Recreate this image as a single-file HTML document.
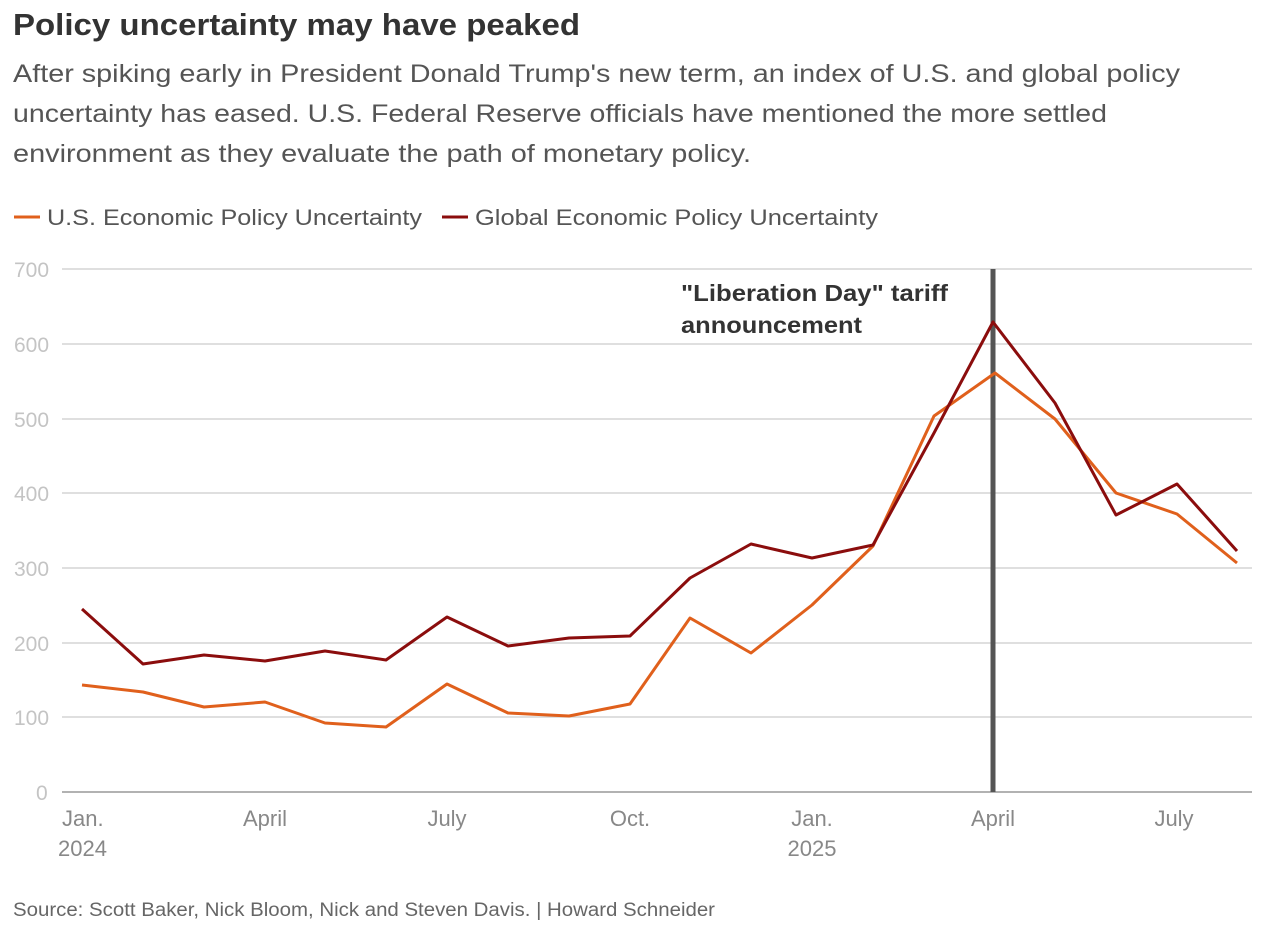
<!DOCTYPE html>
<html><head><meta charset="utf-8"><style>
body{margin:0;background:#fff;width:1271px;height:920px;overflow:hidden;font-family:"Liberation Sans",sans-serif;}
</style></head><body>
<svg width="1271" height="920" xmlns="http://www.w3.org/2000/svg" font-family="Liberation Sans, sans-serif">
<text x="13" y="35" font-size="31" font-weight="bold" fill="#333" textLength="567" lengthAdjust="spacingAndGlyphs">Policy uncertainty may have peaked</text>
<g font-size="25" fill="#555">
<text x="13" y="82" textLength="1167" lengthAdjust="spacingAndGlyphs">After spiking early in President Donald Trump's new term, an index of U.S. and global policy</text>
<text x="13" y="122" textLength="1094" lengthAdjust="spacingAndGlyphs">uncertainty has eased. U.S. Federal Reserve officials have mentioned the more settled</text>
<text x="13" y="162" textLength="738" lengthAdjust="spacingAndGlyphs">environment as they evaluate the path of monetary policy.</text>
</g>
<line x1="14" y1="217" x2="40" y2="217" stroke="#e0601c" stroke-width="3"/>
<text x="47" y="225" font-size="22" fill="#555" textLength="375" lengthAdjust="spacingAndGlyphs">U.S. Economic Policy Uncertainty</text>
<line x1="442" y1="217" x2="468" y2="217" stroke="#8b0d0d" stroke-width="3"/>
<text x="475" y="225" font-size="22" fill="#555" textLength="403" lengthAdjust="spacingAndGlyphs">Global Economic Policy Uncertainty</text>
<g stroke="#ccc" stroke-width="1.2">
<line x1="62" y1="269" x2="1252" y2="269"/><line x1="62" y1="344" x2="1252" y2="344"/>
<line x1="62" y1="419" x2="1252" y2="419"/><line x1="62" y1="493" x2="1252" y2="493"/>
<line x1="62" y1="568" x2="1252" y2="568"/><line x1="62" y1="643" x2="1252" y2="643"/>
<line x1="62" y1="717" x2="1252" y2="717"/>
</g>
<line x1="62" y1="792" x2="1252" y2="792" stroke="#999" stroke-width="1.5"/>
<g font-size="21" fill="#c4c4c4">
<text x="14" y="277">700</text><text x="14" y="352">600</text><text x="14" y="427">500</text>
<text x="14" y="501">400</text><text x="14" y="576">300</text><text x="14" y="651">200</text>
<text x="14" y="725">100</text><text x="36" y="800">0</text>
</g>
<g font-size="22" fill="#888">
<text x="62" y="826">Jan.</text><text x="58" y="856">2024</text>
<text x="265" y="826" text-anchor="middle">April</text>
<text x="447" y="826" text-anchor="middle">July</text>
<text x="630" y="826" text-anchor="middle">Oct.</text>
<text x="812" y="826" text-anchor="middle">Jan.</text><text x="812" y="856" text-anchor="middle">2025</text>
<text x="993" y="826" text-anchor="middle">April</text>
<text x="1174" y="826" text-anchor="middle">July</text>
</g>
<line x1="993" y1="269" x2="993" y2="792" stroke="#555" stroke-width="5"/>
<g font-size="23" font-weight="bold" fill="#333">
<text x="681" y="301" textLength="267" lengthAdjust="spacingAndGlyphs">"Liberation Day" tariff</text>
<text x="681" y="333" textLength="181" lengthAdjust="spacingAndGlyphs">announcement</text>
</g>
<polyline fill="none" stroke="#e0601c" stroke-width="3" stroke-linejoin="round" points="82,685 143,692 204,707 265,702 325,723 386,727 447,684 508,713 569,716 630,704 690,618 751,653 812,605 873,546 934,416 995,373 1055,419 1116,493 1177,514 1237,563"/>
<polyline fill="none" stroke="#8b0d0d" stroke-width="3" stroke-linejoin="round" points="82,609 143,664 204,655 265,661 325,651 386,660 447,617 508,646 569,638 630,636 690,578 751,544 812,558 873,545 934,433 993,322 1055,403 1116,515 1177,484 1237,551"/>
<text x="13" y="916" font-size="19" fill="#666" textLength="702" lengthAdjust="spacingAndGlyphs">Source: Scott Baker, Nick Bloom, Nick and Steven Davis. | Howard Schneider</text>
</svg>
</body></html>
